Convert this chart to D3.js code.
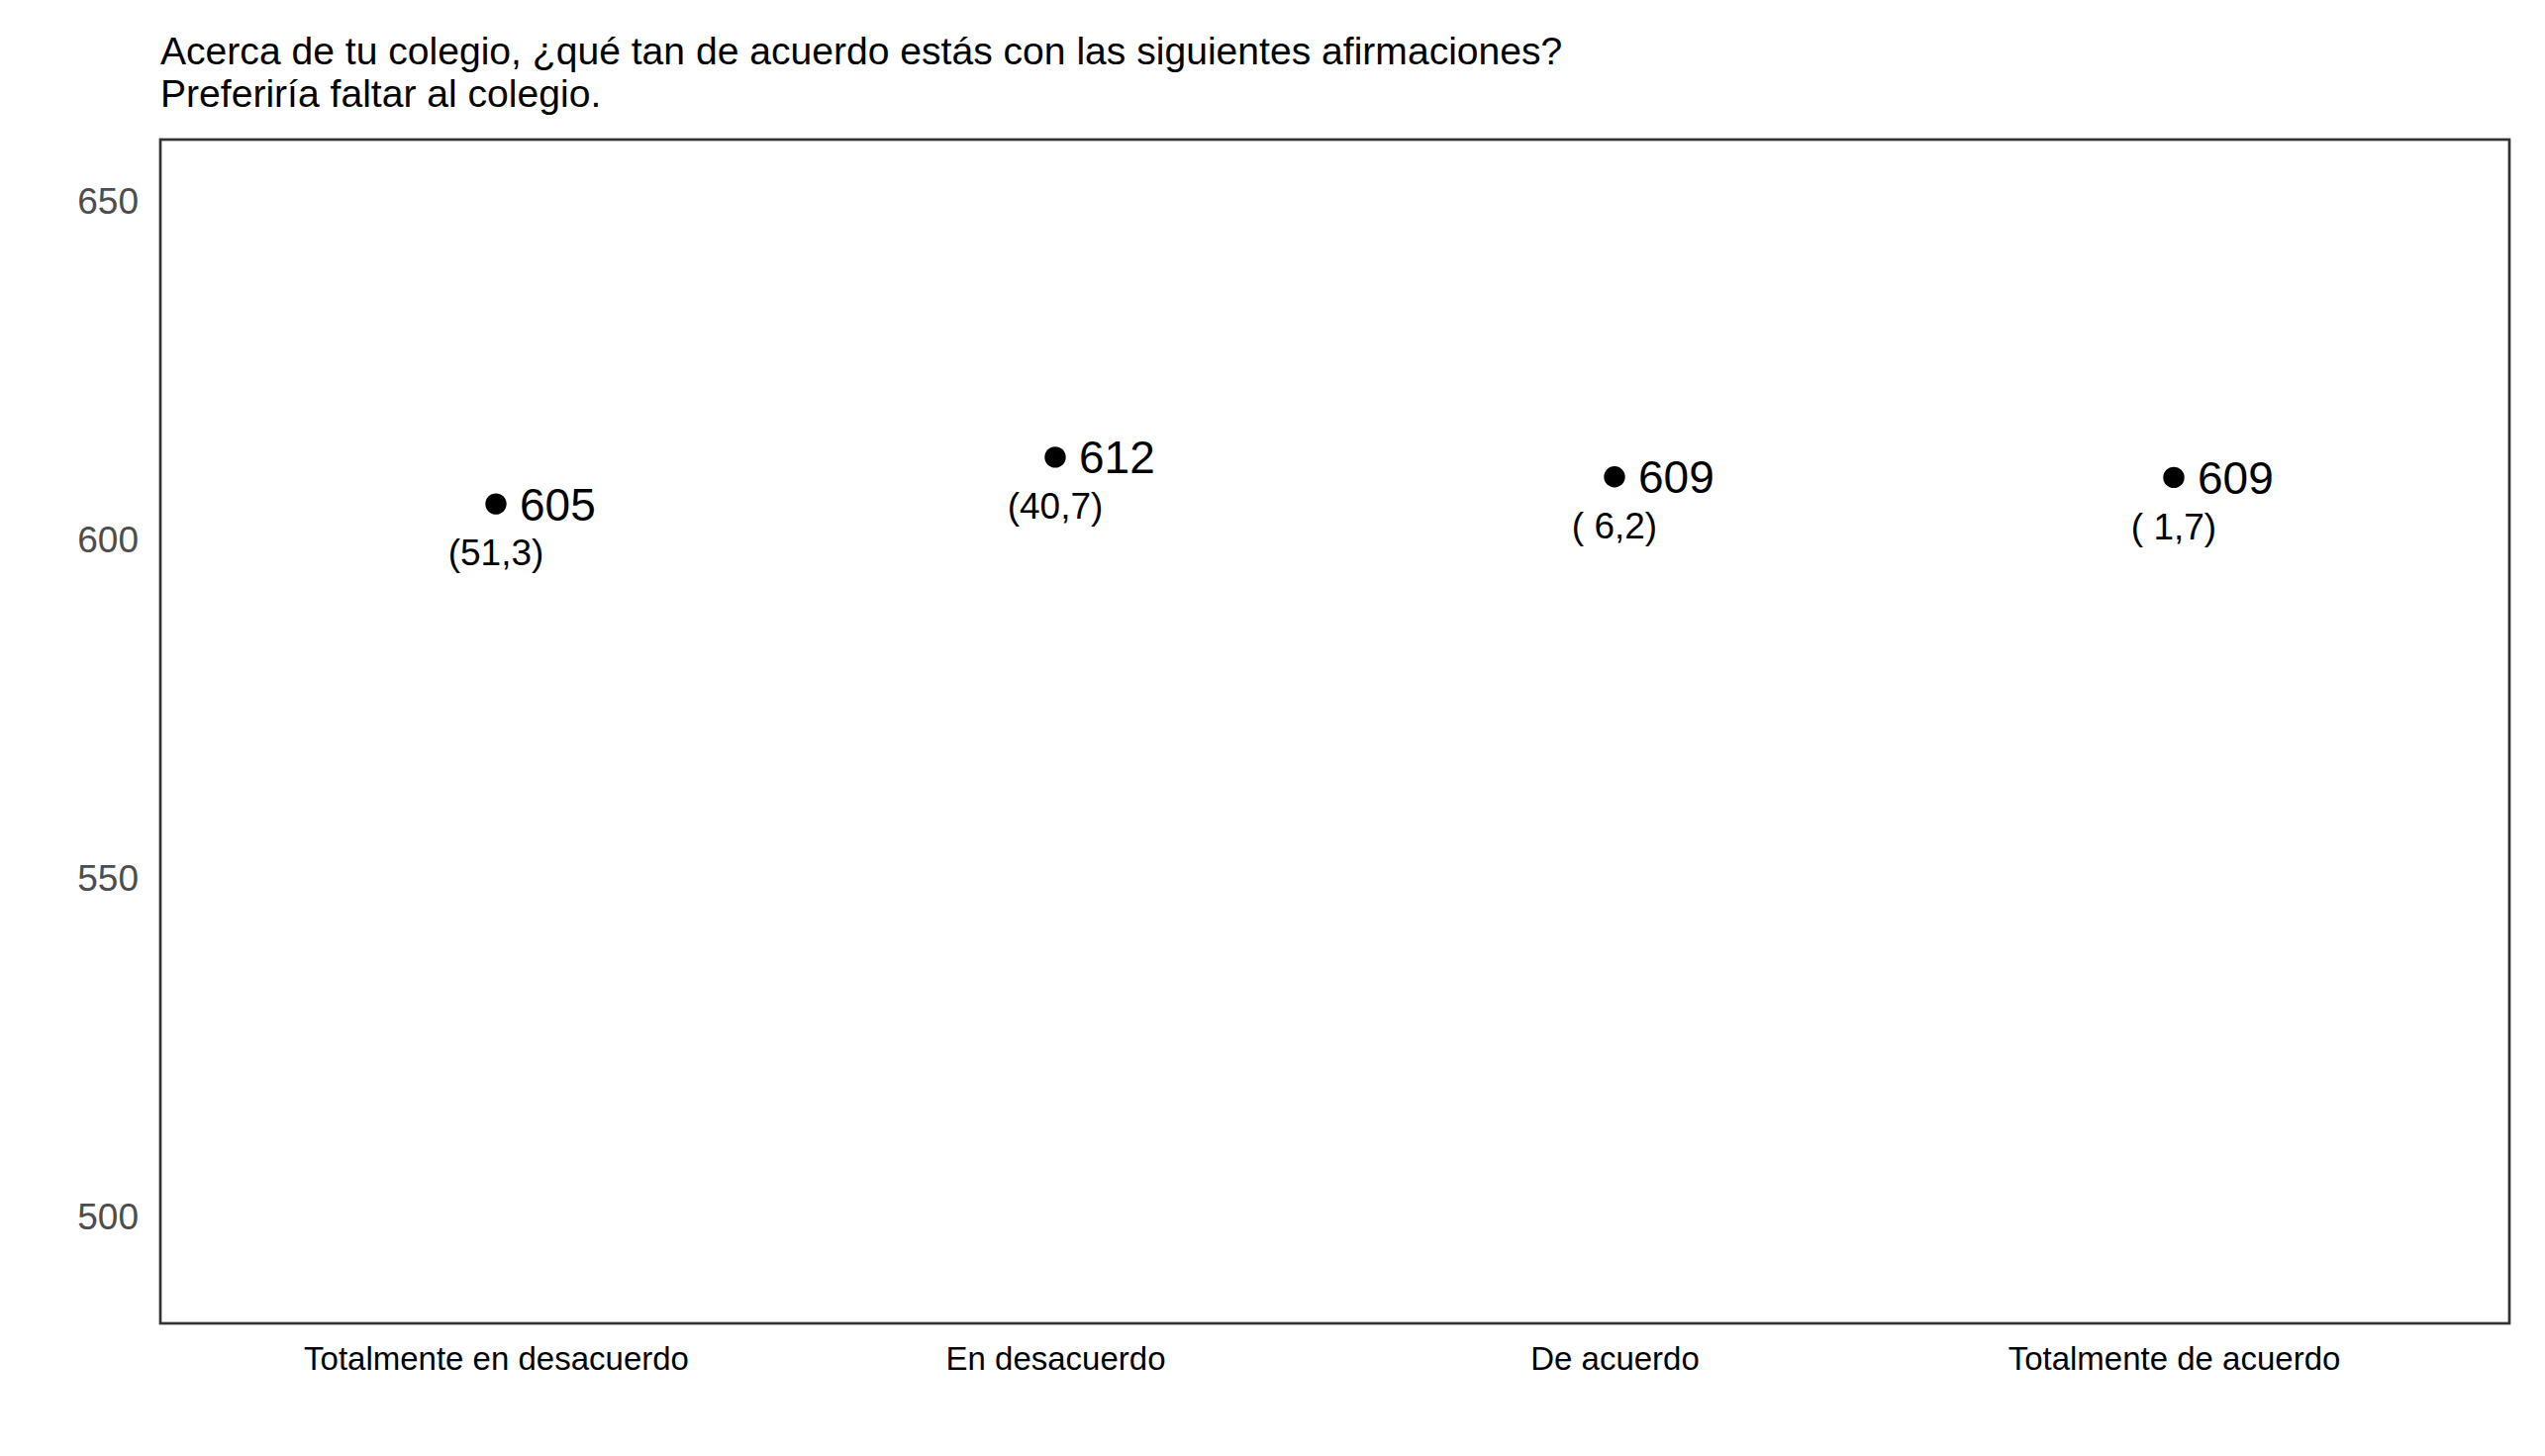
<!DOCTYPE html>
<html><head><meta charset="utf-8">
<script src="https://cdn.jsdelivr.net/npm/d3@7"></script>
<style>
html,body{margin:0;padding:0;background:#fff;}
text{font-family:"Liberation Sans",Arial,sans-serif;}
</style></head>
<body>
<svg id="chart" width="2571" height="1471"></svg>
<script>
const categories = ["Totalmente en desacuerdo","En desacuerdo","De acuerdo","Totalmente de acuerdo"];
const scores = [605.3, 612.2, 609.3, 609.2];
const scoreLabels = ["605","612","609","609"];
const pctLabels = ["(51,3)","(40,7)","( 6,2)","( 1,7)"];
const yTicks = [500, 550, 600, 650];
const titleLines = ["Acerca de tu colegio, ¿qué tan de acuerdo estás con las siguientes afirmaciones?","Preferiría faltar al colegio."];

const svg = d3.select("#chart");
const m = {left:162, top:141, right:2535, bottom:1337};

const x = d3.scalePoint().domain(categories).range([m.left, m.right]).padding(0.6);
const y = d3.scaleLinear().domain([484.3, 659.1]).range([m.bottom, m.top]);

// title
svg.append("g").selectAll("text").data(titleLines).join("text")
  .attr("x", m.left).attr("y", (d,i)=>65 + i*43.3)
  .attr("font-size", 39.1).attr("fill","#000").text(d=>d);

// y axis
const yAxis = svg.append("g").attr("transform",`translate(${m.left},0)`)
  .call(d3.axisLeft(y).tickValues(yTicks).tickSize(0).tickPadding(22));
yAxis.select(".domain").remove();
yAxis.selectAll("text").attr("font-size",37).attr("fill","#4d4d4d").attr("font-family","Liberation Sans, Arial, sans-serif");

// x axis
const xAxis = svg.append("g").attr("transform",`translate(0,${m.bottom})`)
  .call(d3.axisBottom(x).tickSize(0).tickPadding(24));
xAxis.select(".domain").remove();
xAxis.selectAll("text").attr("font-size",33).attr("fill","#000").attr("font-family","Liberation Sans, Arial, sans-serif");

// panel border
svg.append("rect").attr("x",m.left).attr("y",m.top)
  .attr("width",m.right-m.left).attr("height",m.bottom-m.top)
  .attr("fill","none").attr("stroke","#333").attr("stroke-width",2.7);

const data = categories.map((c,i)=>({c, v:scores[i], lab:scoreLabels[i], pct:pctLabels[i]}));
const g = svg.append("g");
g.selectAll("circle").data(data).join("circle")
  .attr("cx",d=>x(d.c)).attr("cy",d=>y(d.v)).attr("r",10.7).attr("fill","#000");
g.selectAll("text.val").data(data).join("text").attr("class","val")
  .attr("x",d=>x(d.c)+24).attr("y",d=>y(d.v)).attr("dy","0.36em")
  .attr("font-size",46).attr("fill","#000").text(d=>d.lab);
g.selectAll("text.pct").data(data).join("text").attr("class","pct")
  .attr("x",d=>x(d.c)).attr("y",d=>y(d.v)+49).attr("dy","0.36em")
  .attr("text-anchor","middle").attr("font-size",37).attr("fill","#000")
  .style("white-space","pre").text(d=>d.pct);
</script>
</body></html>
